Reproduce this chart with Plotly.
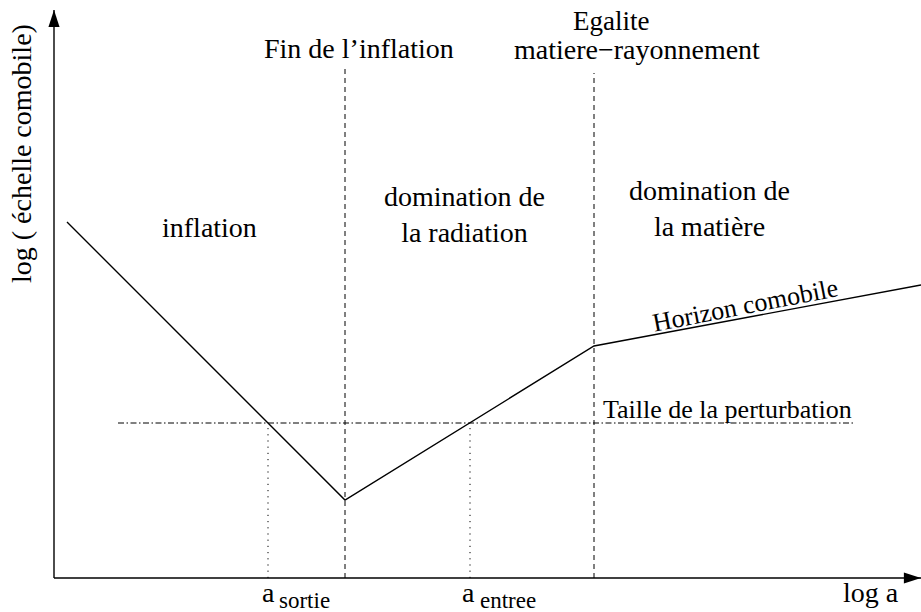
import plotly.graph_objects as go

# Horizon comobile : log a -> log(echelle comobile), unites arbitraires
log_a_horizon = [1.3, 29.1, 54.0, 86.7]
log_echelle_horizon = [35.6, 7.8, 23.2, 29.3]

# Reperes sur l'axe log a
a_fin_inflation = 29.1
a_egalite = 54.0
a_sortie = 21.4
a_entree = 41.6

# Taille de la perturbation (constante en coordonnees comobiles)
taille_perturbation = 15.5
perturbation_x = [6.4, 80.1]

# Hauteur des lignes de separation
haut_fin_inflation = 51.1
haut_egalite = 50.5

# Longueur des axes
axe_x_max = 86.7
axe_y_max = 56.8

POLICE = 'Liberation Serif'
NOIR = '#000000'

fig = go.Figure()

# Axes avec fleches
fig.add_trace(go.Scatter(
    x=[0, axe_x_max], y=[0, 0], mode='lines',
    line=dict(color=NOIR, width=1.4), hoverinfo='skip'
))
fig.add_trace(go.Scatter(
    x=[0, 0], y=[0, axe_y_max], mode='lines',
    line=dict(color=NOIR, width=1.4), hoverinfo='skip'
))
fig.add_trace(go.Scatter(
    x=[0, axe_x_max], y=[axe_y_max, 0], mode='markers',
    marker=dict(symbol='arrow', angle=[0, 90], size=18, color=NOIR,
                line=dict(width=0)),
    hoverinfo='skip'
))

# Separations verticales (tirets)
fig.add_trace(go.Scatter(
    x=[a_fin_inflation, a_fin_inflation], y=[0, haut_fin_inflation], mode='lines',
    line=dict(color=NOIR, width=1, dash='5px,4px'), hoverinfo='skip'
))
fig.add_trace(go.Scatter(
    x=[a_egalite, a_egalite], y=[0, haut_egalite], mode='lines',
    line=dict(color=NOIR, width=1, dash='5px,4px'), hoverinfo='skip'
))

# Taille de la perturbation (tiret-point)
fig.add_trace(go.Scatter(
    x=perturbation_x, y=[taille_perturbation, taille_perturbation], mode='lines',
    line=dict(color=NOIR, width=1, dash='6px,2.5px,1.5px,2.5px'), hoverinfo='skip'
))

# Sortie / entree de l'horizon (pointilles)
for a in [a_sortie, a_entree]:
    fig.add_trace(go.Scatter(
        x=[a, a], y=[0, taille_perturbation], mode='lines',
        line=dict(color=NOIR, width=1, dash='1.2px,5px'), hoverinfo='skip'
    ))

# Horizon comobile
fig.add_trace(go.Scatter(
    x=log_a_horizon, y=log_echelle_horizon, mode='lines',
    line=dict(color=NOIR, width=1.4), hoverinfo='skip'
))


def texte(x, y, t, size=28, angle=0, xanchor='center'):
    fig.add_annotation(
        x=x, y=y, text=t, showarrow=False, textangle=angle,
        xanchor=xanchor, yanchor='middle',
        font=dict(family=POLICE, size=size, color=NOIR)
    )


texte(30.5, 53.0, 'Fin de l’inflation')
texte(55.7, 55.7, 'Egalite', size=27)
texte(58.3, 52.9, 'matiere−rayonnement')
texte(15.5, 35.1, 'inflation')
texte(41.0, 36.4, 'domination de<br>la radiation')
texte(65.5, 37.0, 'domination de<br>la matière')
texte(69.1, 27.3, 'Horizon comobile', size=26, angle=-11)
texte(67.3, 16.9, 'Taille de la perturbation', size=26)
texte(81.7, -1.4, 'log a')
texte(-3.3, 42.4, 'log ( échelle comobile)', angle=-90)

# a_sortie, a_entree
texte(a_sortie, -1.4, 'a')
texte(a_sortie + 0.9, -2.2, 'sortie', size=23, xanchor='left')
texte(a_entree - 0.2, -1.4, 'a')
texte(a_entree + 0.8, -2.2, 'entree', size=23, xanchor='left')

fig.update_layout(
    width=921,
    height=612,
    margin=dict(l=0, r=0, t=0, b=0),
    paper_bgcolor='white',
    plot_bgcolor='white',
    showlegend=False,
    xaxis=dict(range=[-5.4, 86.7], visible=False, fixedrange=True),
    yaxis=dict(range=[-3.4, 57.8], visible=False, fixedrange=True),
)

fig.write_html('out.html', config={'displayModeBar': False},
               post_script="document.body.style.margin = '0';")
